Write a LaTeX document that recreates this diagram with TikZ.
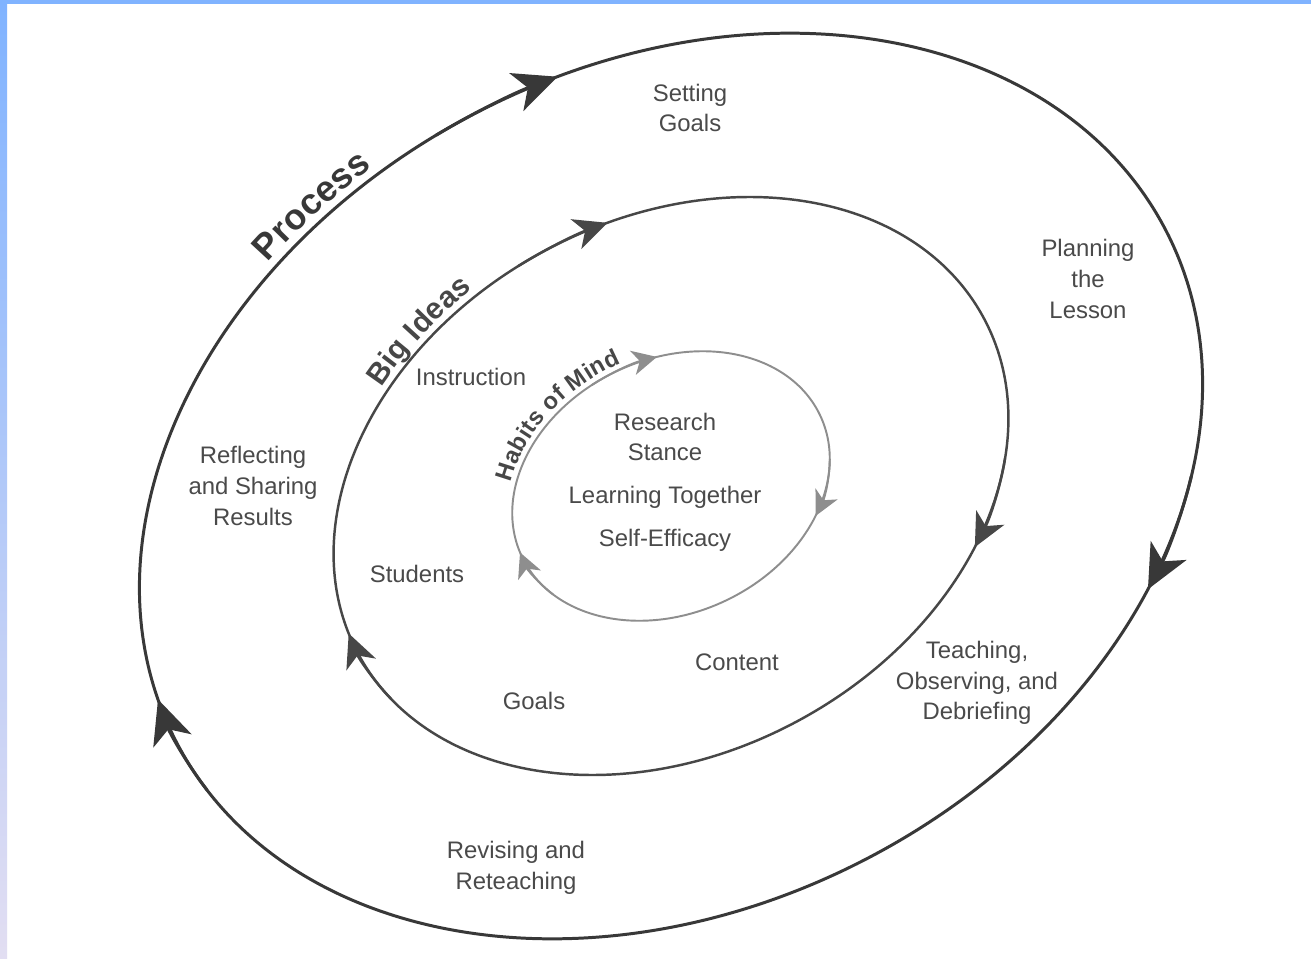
\documentclass[tikz,border=0pt]{standalone}
\usepackage{fontspec}
\setmainfont{Liberation Sans}
\usetikzlibrary{arrows.meta,decorations.text}
\definecolor{bluebar}{HTML}{80B3FF}
\definecolor{lavbar}{HTML}{E2DEF2}
\definecolor{outerc}{HTML}{383838}
\definecolor{midc}{HTML}{474747}
\definecolor{innerc}{HTML}{8E8E8E}
\definecolor{txtc}{HTML}{4A4A4A}
\begin{document}
\begin{tikzpicture}[x=0.02cm,y=0.02cm,
  lbl/.style={font=\fontsize{13.6pt}{17.4pt}\selectfont, text=txtc, align=center, inner sep=0pt},
  outerln/.style={draw=outerc, line width=1.7pt},
  midln/.style={draw=midc, line width=1.4pt},
  innerln/.style={draw=innerc, line width=1.1pt},
  outertip/.style={-{Stealth[length=25pt,width=23pt,inset=7pt]}},
  midtip/.style={-{Stealth[length=19pt,width=18pt,inset=5.5pt]}},
  innertip/.style={-{Stealth[length=14pt,width=14pt,inset=4pt]}}
]
\useasboundingbox (0,0) rectangle (1311,958);
\fill[white] (0,0) rectangle (1311,958);
\fill[bluebar] (0,954) rectangle (1311,958);
\shade[top color=bluebar, bottom color=lavbar] (0,0) rectangle (7,958);

% outer ellipse: Process
\begin{scope}[shift={(671,472)},rotate=27.2]
  \draw[outerln] (0,0) ellipse [x radius=557, y radius=421];
  \draw[outerln,outertip] ({557*cos(95)},{421*sin(95)}) arc[start angle=95, end angle=81.1, x radius=557, y radius=421];
  \draw[outerln,outertip] ({557*cos(-33)},{421*sin(-33)}) arc[start angle=-33, end angle=-47.4, x radius=557, y radius=421];
  \draw[outerln,outertip] ({557*cos(188)},{421*sin(188)}) arc[start angle=188, end angle=173.9, x radius=557, y radius=421];
  \path[decorate, decoration={text along path, text={|\bfseries\fontsize{20.5pt}{20.5pt}\selectfont|Process}, text align=center, raise=5pt, text color=outerc}]
    ({557*cos(128)},{421*sin(128)}) arc[start angle=128, end angle=92, x radius=557, y radius=421];
\end{scope}

% middle ellipse: Big Ideas
\begin{scope}[shift={(671,472)},rotate=28.2]
  \draw[midln] (0,0) ellipse [x radius=355, y radius=267];
  \draw[midln,midtip] ({355*cos(95)},{267*sin(95)}) arc[start angle=95, end angle=78.9, x radius=355, y radius=267];
  \draw[midln,midtip] ({355*cos(-30)},{267*sin(-30)}) arc[start angle=-30, end angle=-47.7, x radius=355, y radius=267];
  \draw[midln,midtip] ({355*cos(192)},{267*sin(192)}) arc[start angle=192, end angle=175.2, x radius=355, y radius=267];
  \path[decorate, decoration={text along path, text={|\bfseries\fontsize{17pt}{17pt}\selectfont|Big Ideas}, text align=center, raise=4pt, text color=midc}]
    ({355*cos(140)},{267*sin(140)}) arc[start angle=140, end angle=90, x radius=355, y radius=267];
\end{scope}

% inner ellipse: Habits of Mind
\begin{scope}[shift={(671,472)},rotate=25.3]
  \draw[innerln] (0,0) ellipse [x radius=165, y radius=127];
  \draw[innerln,innertip] ({165*cos(100)},{127*sin(100)}) arc[start angle=100, end angle=75.1, x radius=165, y radius=127];
  \draw[innerln,innertip] ({165*cos(-20)},{127*sin(-20)}) arc[start angle=-20, end angle=-44.4, x radius=165, y radius=127];
  \draw[innerln,innertip] ({165*cos(202)},{127*sin(202)}) arc[start angle=202, end angle=178, x radius=165, y radius=127];
  \path[decorate, decoration={text along path, text={|\bfseries\fontsize{13.5pt}{13.5pt}\selectfont|Habits of Mind}, text align=center, raise=3pt, text color=midc}]
    ({165*cos(173)},{127*sin(173)}) arc[start angle=173, end angle=67, x radius=165, y radius=127];
\end{scope}

% process stages
\node[lbl] (setgoals) at (690,850) {Setting\\Goals};
\node[lbl] (planning) at (1088,679) {Planning\\the\\Lesson};
\node[lbl] (teaching) at (977,275) {Teaching,\\Observing, and\\Debriefing};
\node[lbl] (revising) at (516,90) {Revising and\\Reteaching};
\node[lbl] (reflecting) at (253,472) {Reflecting\\and Sharing\\Results};

% big ideas
\node[lbl] (instruction) at (471,581) {Instruction};
\node[lbl] (students) at (417,384) {Students};
\node[lbl] (goals) at (534,257) {Goals};
\node[lbl] (content) at (737,296) {Content};

% habits of mind
\node[lbl] (research) at (665,521) {Research\\Stance};
\node[lbl] (learning) at (665,461) {Learning Together};
\node[lbl] (selfeff) at (665,418) {Self-Efficacy};
\end{tikzpicture}
\end{document}
